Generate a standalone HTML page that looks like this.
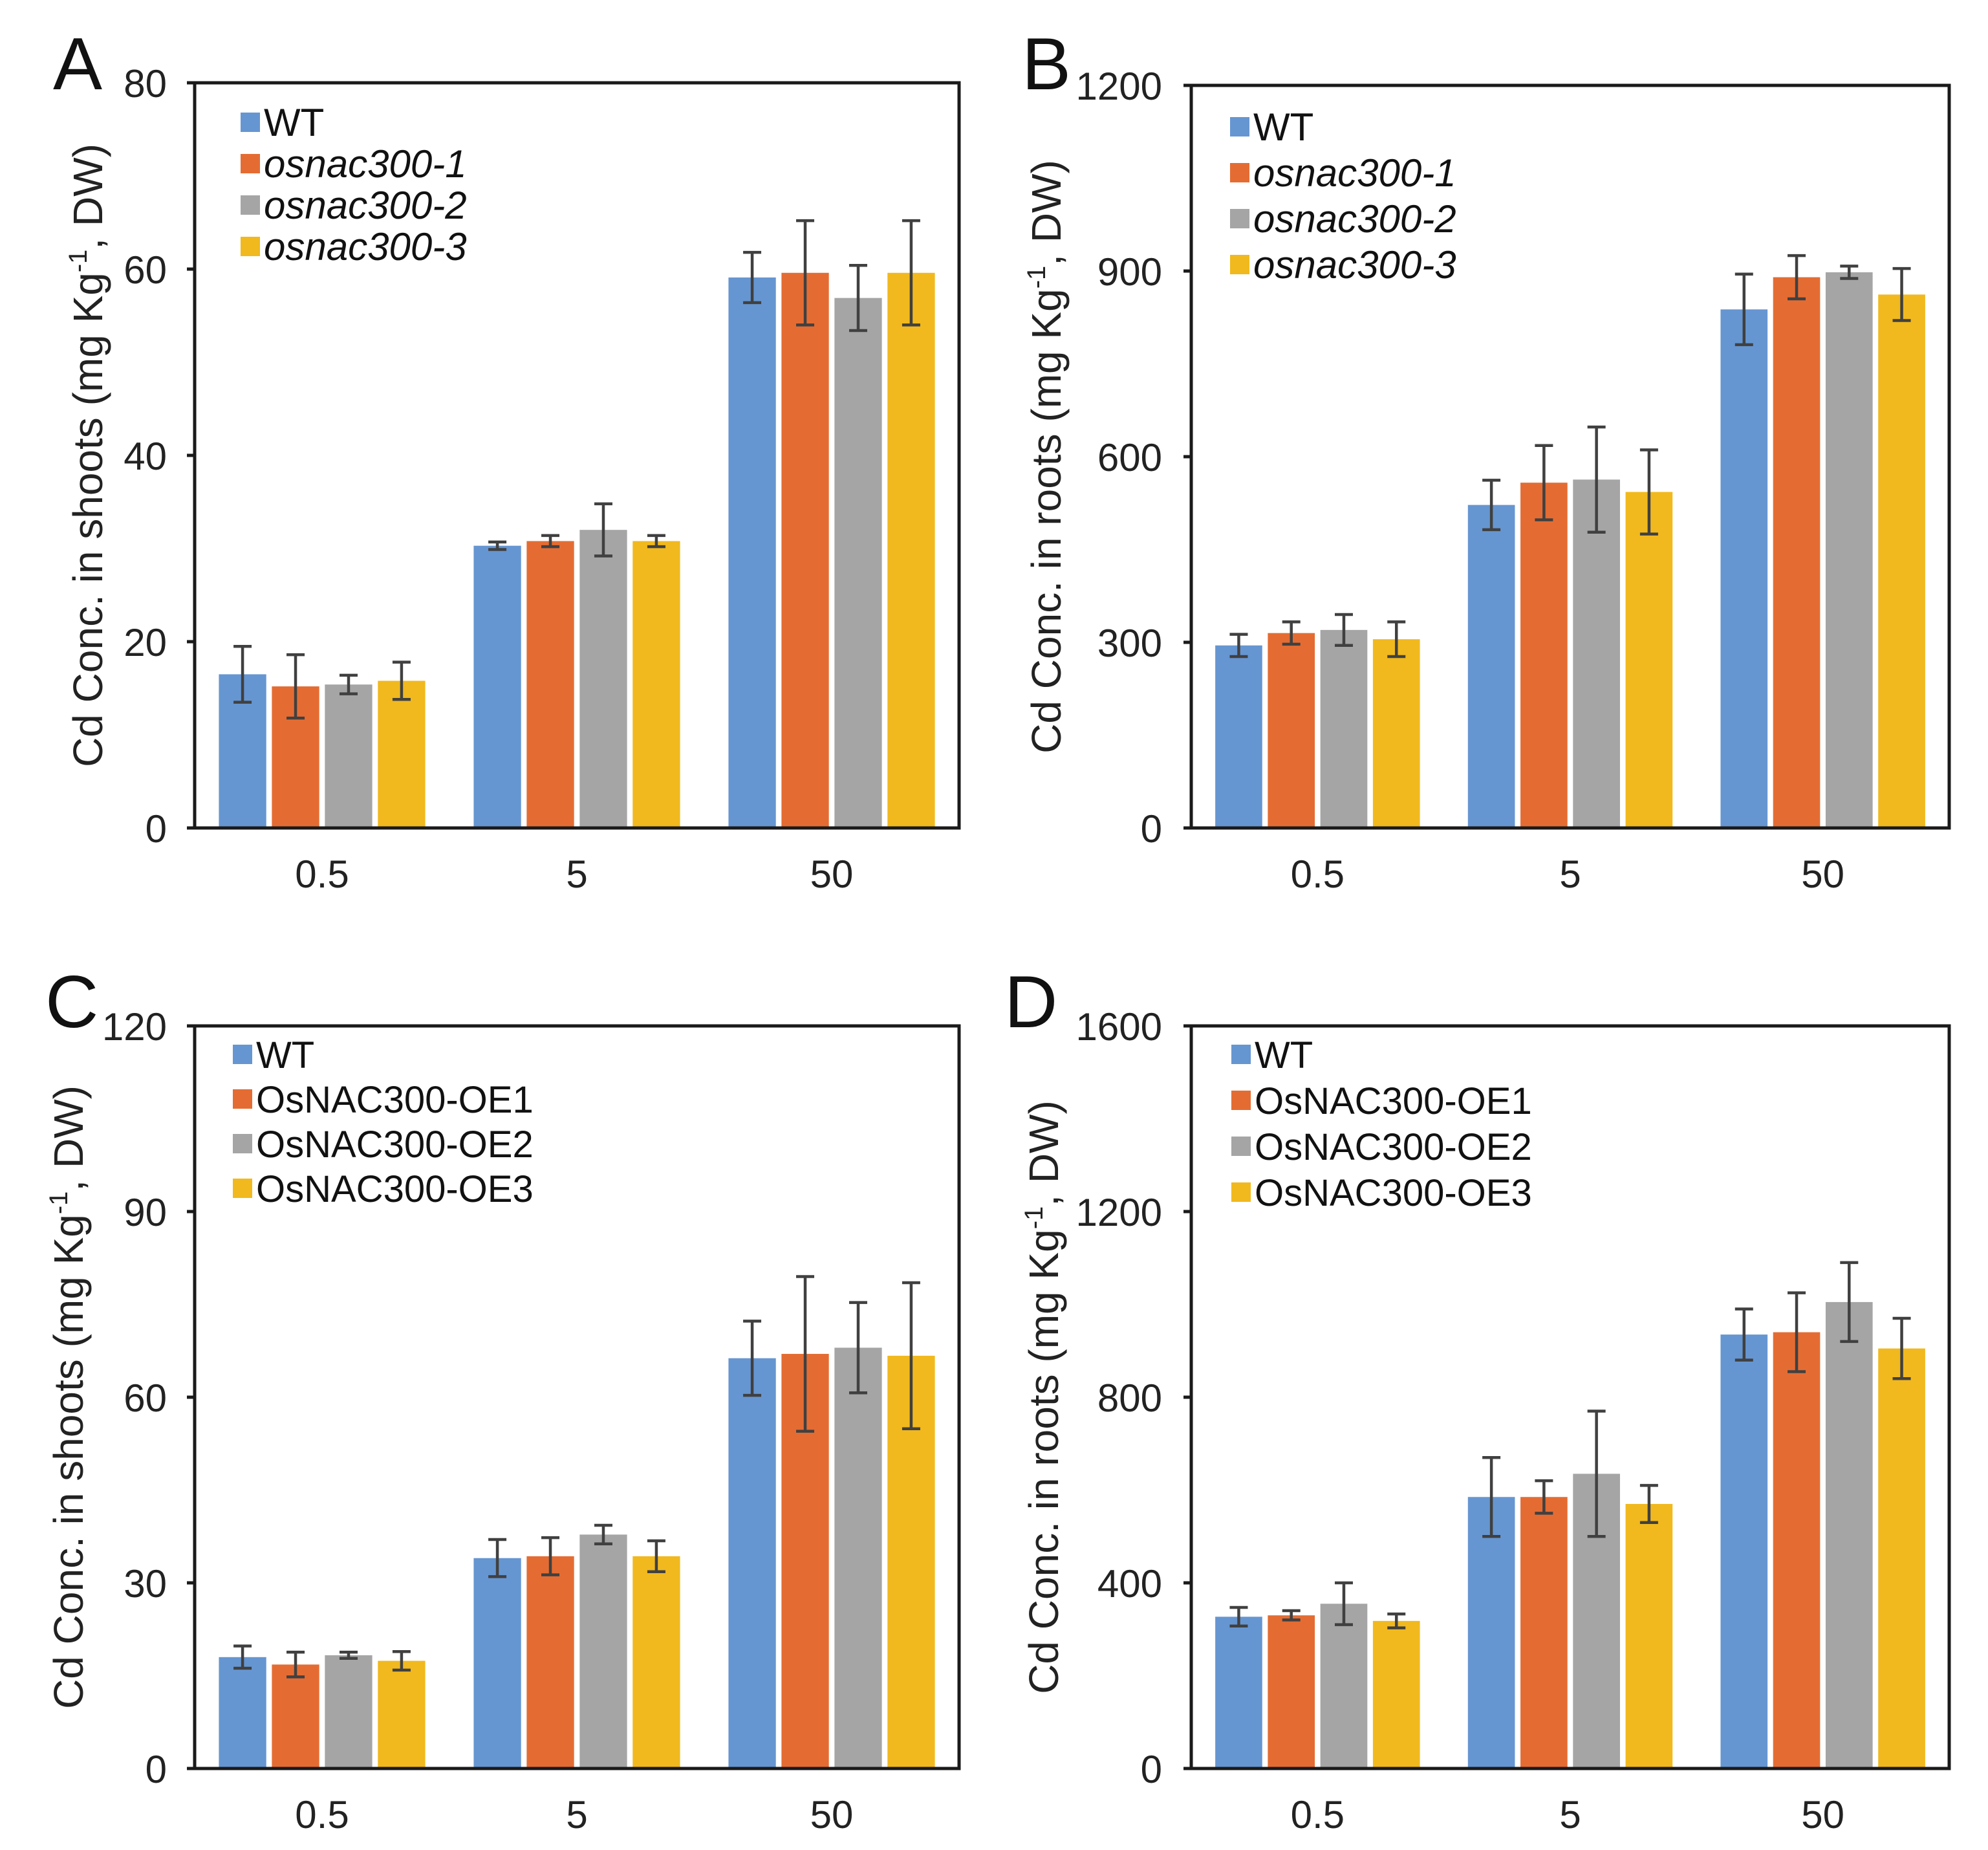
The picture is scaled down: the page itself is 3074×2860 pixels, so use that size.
<!DOCTYPE html>
<html><head><meta charset="utf-8">
<style>
html,body{margin:0;padding:0;background:#fff;}
svg{display:block;font-family:"Liberation Sans",Arial,sans-serif;}
</style></head>
<body>
<svg id="fig" width="3074" height="2860" viewBox="0 0 3074 2860" xmlns="http://www.w3.org/2000/svg"></svg>
<script>
const categories = ["0.5", "5", "50"];
const colors = ["#6696d1", "#e46c33", "#a5a5a5", "#f1b91d"];
const seriesMutant = ["WT", "osnac300-1", "osnac300-2", "osnac300-3"];
const seriesOE = ["WT", "OsNAC300-OE1", "OsNAC300-OE2", "OsNAC300-OE3"];

const aVals = [[16.5,15.2,15.4,15.8],[30.3,30.8,32.0,30.8],[59.1,59.6,56.9,59.6]];
const aErr  = [[3.0,3.4,1.0,2.0],[0.4,0.6,2.8,0.6],[2.7,5.6,3.5,5.6]];
const aTicks = [0,20,40,60,80];

const bVals = [[295,315,320,305],[522,558,563,543],[838,890,898,862]];
const bErr  = [[18,18,25,28],[40,60,85,68],[57,35,10,42]];
const bTicks = [0,300,600,900,1200];

const cVals = [[18.0,16.8,18.3,17.4],[34.0,34.3,37.8,34.3],[66.3,67.0,68.0,66.7]];
const cErr  = [[1.8,2.0,0.5,1.5],[3.0,3.0,1.5,2.5],[6.0,12.5,7.3,11.8]];
const cTicks = [0,30,60,90,120];

const dVals = [[327,330,355,318],[585,585,635,570],[935,940,1005,905]];
const dErr  = [[20,10,45,15],[85,35,135,40],[55,85,85,65]];
const dTicks = [0,400,800,1200,1600];

const NS = "http://www.w3.org/2000/svg";
const svg = document.getElementById("fig");
function mk(tag, attrs, parent){
  const e = document.createElementNS(NS, tag);
  for (const k in attrs) e.setAttribute(k, attrs[k]);
  (parent||svg).appendChild(e);
  return e;
}

function panel(cfg){
  const g = mk("g", {});
  
  
  const L = cfg.left, R = cfg.right, T = cfg.top, B = cfg.bottom;
  const vmax = cfg.ticks[cfg.ticks.length-1];
  const y = v => B - (v / vmax) * (B - T);
  const cw = (R - L) / cfg.cats.length;
  const xc = i => L + cw * (i + 0.5);
  const bw = cw * 0.186, pitch = cw * 0.208;

  cfg.vals.forEach((grp, ci) => {
    grp.forEach((v, si) => {
      const x0 = xc(ci) + (si - 1.5) * pitch - bw / 2;
      const r = mk("rect", {x:x0, y:y(v), width:bw, height:B - y(v), fill:colors[si]}, g);
      
      
    });
  });
  cfg.vals.forEach((grp, ci) => {
    grp.forEach((v, si) => {
      const cx = xc(ci) + (si - 1.5) * pitch;
      const e = cfg.err[ci][si];
      const eg = mk("g", {stroke:"#404040", "stroke-width":4.5, fill:"none"}, g);
      
      
      mk("line", {x1:cx, x2:cx, y1:y(v+e), y2:y(v-e)}, eg);
      mk("line", {x1:cx-14, x2:cx+14, y1:y(v+e), y2:y(v+e)}, eg);
      mk("line", {x1:cx-14, x2:cx+14, y1:y(v-e), y2:y(v-e)}, eg);
    });
  });
  const fr = mk("rect", {x:L, y:T, width:R-L, height:B-T, fill:"none", stroke:"#1a1a1a", "stroke-width":5}, g);
  
  
  cfg.ticks.forEach(t => {
    mk("line", {x1:L-12, x2:L, y1:y(t), y2:y(t), stroke:"#1a1a1a", "stroke-width":5}, g);
    const tx = mk("text", {x:cfg.tickRight, y:y(t)+22, "text-anchor":"end", "font-size":60, fill:"#222"}, g);
    tx.textContent = t;
    
    
  });
  cfg.cats.forEach((c, ci) => {
    const tx = mk("text", {x:xc(ci), y:B+92, "text-anchor":"middle", "font-size":60, fill:"#222"}, g);
    tx.textContent = c;
    
    
  });
  const yt = mk("text", {x:0, y:0, transform:`translate(${cfg.titleX},${(T+B)/2}) rotate(-90)`, "text-anchor":"middle", "font-size":64, fill:"#222"}, g);
  
  
  yt.innerHTML = cfg.title + ' (mg Kg<tspan dy="-24" font-size="40">-1</tspan><tspan dy="24">, DW)</tspan>';
  const pl = mk("text", {x:cfg.letterX, y:cfg.letterY, "font-size":114, fill:"#111"}, g);
  pl.textContent = cfg.letter;
  
  
  cfg.series.forEach((s, si) => {
    const ly = cfg.legY + si * cfg.legStep;
    const lg = mk("g", {}, g);
    
    
    mk("rect", {x:cfg.legX, y:ly-26, width:30, height:30, fill:colors[si]}, lg);
    const t = mk("text", {x:cfg.legX+36, y:ly+10, "font-size":cfg.legFont, fill:"#111", "font-style": (cfg.italic && si>0) ? "italic" : "normal"}, lg);
    t.textContent = s;
  });
}

panel({letter:"A", left:301, right:1483, top:128, bottom:1280, ticks:aTicks, vals:aVals, err:aErr, cats:categories, series:seriesMutant, italic:true,
  tickRight:258, titleX:158, letterX:82, letterY:138, legX:372, legY:200, legStep:64, legFont:60, title:"Cd Conc. in shoots"});
panel({letter:"B", left:1842, right:3014, top:132, bottom:1280, ticks:bTicks, vals:bVals, err:bErr, cats:categories, series:seriesMutant, italic:true,
  tickRight:1797, titleX:1640, letterX:1580, letterY:138, legX:1902, legY:207, legStep:71, legFont:60, title:"Cd Conc. in roots"});
panel({letter:"C", left:301, right:1483, top:1586, bottom:2734, ticks:cTicks, vals:cVals, err:cErr, cats:categories, series:seriesOE, italic:false,
  tickRight:258, titleX:128, letterX:70, letterY:1588, legX:360, legY:1641, legStep:69, legFont:58, title:"Cd Conc. in shoots"});
panel({letter:"D", left:1842, right:3014, top:1586, bottom:2734, ticks:dTicks, vals:dVals, err:dErr, cats:categories, series:seriesOE, italic:false,
  tickRight:1797, titleX:1636, letterX:1553, letterY:1588, legX:1904, legY:1641, legStep:71, legFont:58, title:"Cd Conc. in roots"});
</script>
</body></html>
